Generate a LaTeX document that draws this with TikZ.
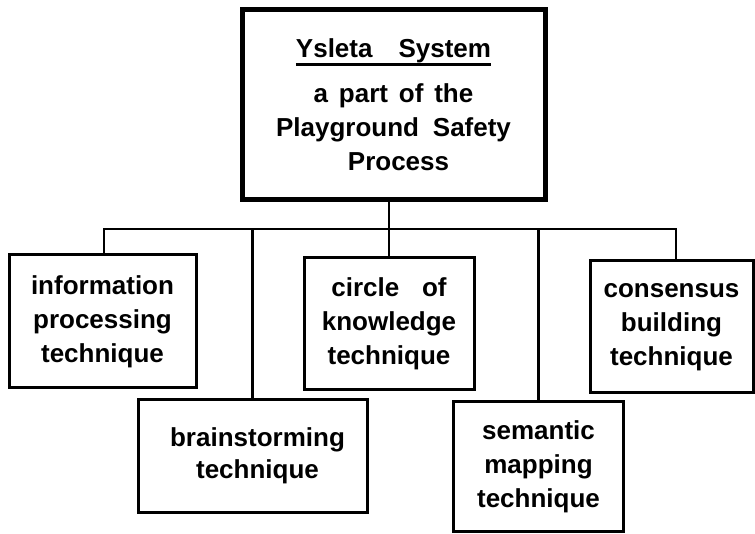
\documentclass[tikz,border=0pt]{standalone}
\usepackage{fontspec}
\setmainfont{Liberation Sans}[WordSpace=1.5]
\newcommand{\ulthick}[1]{\setbox0\hbox{#1}\leavevmode\rlap{\rule[-8.2pt]{\wd0}{2.5pt}}\box0}
\begin{document}
\begin{tikzpicture}[
        x=1pt, y=-1pt,
        techbox/.style={rectangle, draw, line width=3pt, inner sep=0pt, align=center, font=\fontsize{26}{34}\selectfont\bfseries},
        topbox/.style={techbox, line width=5pt},
        link/.style={draw, line width=2.7pt, line join=miter}
    ]
        \useasboundingbox (0,0) rectangle (755,534);

        \node[topbox, minimum width=303pt, minimum height=190pt] (sys) at (393.5,105) {\ulthick{Ysleta\hspace{26pt}System}\\[11pt]a part of the\\Playground\hspace{3pt} Safety\\\hspace*{10pt}Process};

        \node[techbox, minimum width=187pt, minimum height=133pt] (info) at (102.5,321.5) {information\\processing\\technique};
        \node[techbox, minimum width=229pt, minimum height=113pt] (brain) at (252.5,456) {\hspace*{10pt}brainstorming\\[-2pt]\hspace*{10pt}technique};
        \node[techbox, minimum width=170pt, minimum height=132pt] (circ) at (389,324) {circle\hspace{12pt} of\\knowledge\\technique};
        \node[techbox, minimum width=170pt, minimum height=129pt] (sem) at (538.5,466.5) {semantic\\mapping\\technique};
        \node[techbox, minimum width=163pt, minimum height=132pt] (cons) at (671.5,327) {consensus\\building\\technique};

        \coordinate (busL) at (104,229);
        \coordinate (busR) at (676,229);

        \draw[link] (sys.south -| circ.north) -- (circ.north);
        \draw[link] (busL |- info.north) -- (busL) -- (busR) -- (busR |- cons.north);
        \draw[link] (brain.north |- busL) -- (brain.north);
        \draw[link] (sem.north |- busL) -- (sem.north);
    \end{tikzpicture}
\end{document}
